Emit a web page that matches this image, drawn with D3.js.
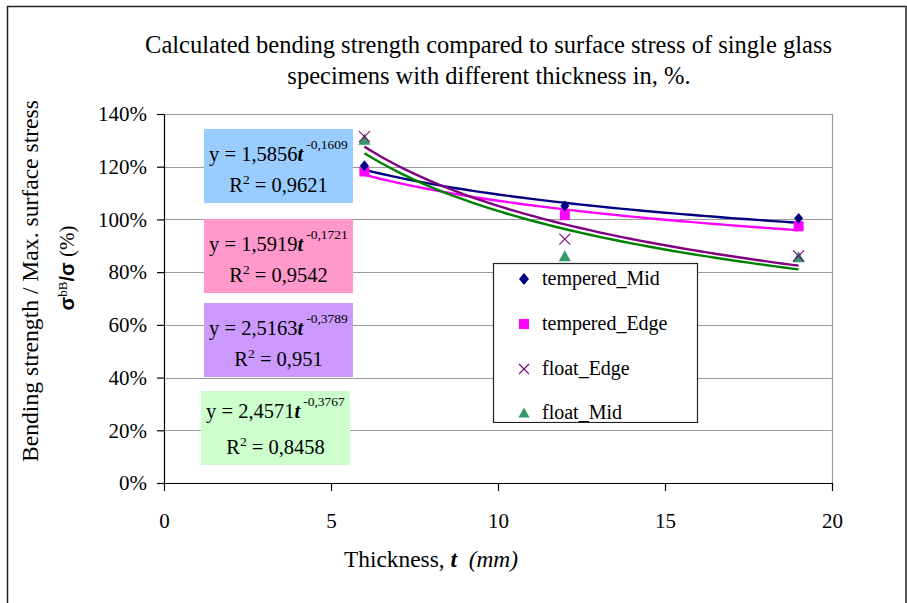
<!DOCTYPE html>
<html><head><meta charset="utf-8">
<script src="https://cdn.jsdelivr.net/npm/d3@7"></script>
<style>body{margin:0;background:#fff}svg{display:block}</style>
</head><body>
<script>
// ---- data ----
const thickness = [6, 12, 19];
const seriesNames = ["tempered_Mid", "tempered_Edge", "float_Edge", "float_Mid"];
const temperedMid = [1.204, 1.051, 1.004];
const temperedEdge = [1.182, 1.016, 0.974];
const floatEdge = [1.314, 0.925, 0.862];
const floatMid = [1.302, 0.860, 0.856];
const trendA = [1.5856, 1.5919, 2.5163, 2.4571];
const trendB = [-0.1609, -0.1721, -0.3789, -0.3767];
const eqCoef = ["1,5856", "1,5919", "2,5163", "2,4571"];
const eqExp = ["-0,1609", "-0,1721", "-0,3789", "-0,3767"];
const eqR2 = ["0,9621", "0,9542", "0,951", "0,8458"];
const xTicks = [0, 5, 10, 15, 20];
const yTicks = [0, 0.2, 0.4, 0.6, 0.8, 1.0, 1.2, 1.4];
const titleLines = ["Calculated bending strength compared to surface stress of single glass", "specimens with different thickness in, %."];
const yTitle = "Bending strength / Max. surface stress";

const SERIF = '"Liberation Serif", "Times New Roman", serif';
const SANS = '"Liberation Sans", Arial, sans-serif';
const W = 907, H = 603;
const svg = d3.select("body").append("svg").attr("width", W).attr("height", H);
svg.append("rect").attr("width", W).attr("height", H).attr("fill", "#fff");
svg.append("rect").attr("x", 7.5).attr("y", 6.5).attr("width", 898.5).attr("height", 620)
  .attr("fill", "none").attr("stroke", "#222").attr("stroke-width", 1.5);

function fit(sel, target) {
  const fs = +sel.attr("font-size");
  const w = sel.node().getComputedTextLength();
  sel.attr("font-size", (fs * target / w).toFixed(2));
  return fs * target / w;
}

const L = 164, R = 832, T = 114, B = 483;
const x = d3.scaleLinear().domain([0, 20]).range([L, R]);
const y = d3.scaleLinear().domain([0, 1.4]).range([B, T]);

// gridlines
svg.append("g").selectAll("line").data(yTicks.filter(d => d > 0)).join("line")
  .attr("x1", L).attr("x2", R).attr("y1", d => Math.round(y(d)) + 0.5).attr("y2", d => Math.round(y(d)) + 0.5)
  .attr("stroke", "#9a9a9a").attr("stroke-width", 1.2);
svg.append("line").attr("x1", R + 0.5).attr("x2", R + 0.5).attr("y1", T).attr("y2", B).attr("stroke", "#9a9a9a").attr("stroke-width", 1.2);

// axes
const yAxis = svg.append("g").attr("transform", `translate(${L},0)`)
  .call(d3.axisLeft(y).tickValues(yTicks).tickFormat(d => Math.round(d * 100) + "%").tickSize(7).tickSizeOuter(0));
yAxis.selectAll("text").attr("font-size", 21).attr("x", -17).attr("fill", "#000").style("font-family", SERIF);
const xAxis = svg.append("g").attr("transform", `translate(0,${B})`)
  .call(d3.axisBottom(x).tickValues(xTicks).tickFormat(d3.format("d")).tickSize(8).tickSizeOuter(0));
xAxis.selectAll("text").attr("font-size", 21).attr("y", 30).attr("fill", "#000").style("font-family", SERIF);
svg.selectAll(".domain, .tick line").attr("stroke", "#000").attr("stroke-width", 1.2);

// trend lines
const trendColors = ["#000080", "#FF00FF", "#800080", "#008000"];
const tSamples = d3.range(6, 19.01, 0.25);
const line = d3.line().x(d => x(d[0])).y(d => y(d[1]));
trendA.forEach((a, i) => {
  svg.append("path").datum(tSamples.map(t => [t, a * Math.pow(t, trendB[i])]))
    .attr("d", line).attr("fill", "none").attr("stroke", trendColors[i]).attr("stroke-width", 2.4);
});

// markers
const markerColors = ["#000080", "#FF00FF", "#800080", "#339966"];
function marker(g, kind, cx, cy, col, s) {
  if (kind === 0) g.append("path").attr("d", `M${cx},${cy - s * 0.6}L${cx + s * 0.5},${cy}L${cx},${cy + s * 0.6}L${cx - s * 0.5},${cy}Z`).attr("fill", col);
  else if (kind === 1) g.append("rect").attr("x", cx - s * 0.5).attr("y", cy - s * 0.5).attr("width", s).attr("height", s).attr("fill", col);
  else if (kind === 2) g.append("path").attr("d", `M${cx - s / 2},${cy - s / 2}L${cx + s / 2},${cy + s / 2}M${cx - s / 2},${cy + s / 2}L${cx + s / 2},${cy - s / 2}`).attr("stroke", col).attr("stroke-width", 1.1).attr("fill", "none");
  else g.append("path").attr("d", `M${cx},${cy - s * 0.55}L${cx + s * 0.55},${cy + s * 0.45}L${cx - s * 0.55},${cy + s * 0.45}Z`).attr("fill", col);
}
const allSeries = [temperedMid, temperedEdge, floatEdge, floatMid];
const mg = svg.append("g");
[3, 2, 1, 0].forEach(i => {
  allSeries[i].forEach((v, j) => marker(mg, i, x(thickness[j]), y(v), markerColors[i], i === 0 ? 9 : i === 1 ? 10 : 11));
});

// equation boxes
const boxFill = ["#99CCFF", "#FF99CC", "#CC99FF", "#CCFFCC"];
const boxY = [129, 219, 303, 391];
const boxX = [204, 204, 204, 201];
boxFill.forEach((c, i) => {
  const g = svg.append("g").attr("transform", `translate(${boxX[i]},${boxY[i]})`);
  g.append("rect").attr("width", 149).attr("height", 74).attr("fill", c);
  const t1 = g.append("text").attr("x", 74.5).attr("y", i === 3 ? 27 : 32).attr("text-anchor", "middle")
    .attr("font-size", 20.5).attr("fill", "#000").style("font-family", SERIF);
  t1.append("tspan").text("y = " + eqCoef[i]);
  t1.append("tspan").attr("font-weight", "bold").attr("font-style", "italic").text("t");
  t1.append("tspan").attr("font-size", 13.5).attr("dy", -12).attr("dx", 3).text(eqExp[i]);
  const t2 = g.append("text").attr("x", 74.5).attr("y", 63).attr("text-anchor", "middle")
    .attr("font-size", 20.5).attr("fill", "#000").style("font-family", SERIF);
  t2.append("tspan").text("R");
  t2.append("tspan").attr("font-size", 13.5).attr("dy", -8).text("2");
  t2.append("tspan").attr("dy", 8).text(" = " + eqR2[i]);
});

// legend
const lg = svg.append("g").attr("transform", "translate(493,263)");
lg.append("rect").attr("x", 0.5).attr("y", 0.5).attr("width", 204).attr("height", 159).attr("fill", "#fff").attr("stroke", "#222").attr("stroke-width", 1.2);
const legY = [16, 61, 106, 150];
seriesNames.forEach((n, i) => {
  marker(lg, i, 31, legY[i], markerColors[i], 10);
  lg.append("text").attr("x", 49).attr("y", legY[i] + 6).attr("font-size", 20).attr("fill", "#000").style("font-family", SERIF).text(n);
});
lg.append("rect").attr("x", 1).attr("y", 160).attr("width", 203).attr("height", 6).attr("fill", "#fff");
lg.append("line").attr("x1", 0.5).attr("x2", 204.5).attr("y1", 159.5).attr("y2", 159.5).attr("stroke", "#222").attr("stroke-width", 1.2);

// title
const tl1 = svg.append("text").attr("x", 488.5).attr("y", 53).attr("text-anchor", "middle").attr("font-size", 20)
  .attr("fill", "#000").style("font-family", SERIF).text(titleLines[0]);
const tfs = fit(tl1, 687);
svg.append("text").attr("x", 489).attr("y", 84).attr("text-anchor", "middle").attr("font-size", tfs.toFixed(2))
  .attr("fill", "#000").style("font-family", SERIF).text(titleLines[1]);

// y axis title
const yt = svg.append("g").attr("transform", "translate(38,281) rotate(-90)");
const yt1 = yt.append("text").attr("text-anchor", "middle").attr("font-size", 20).attr("fill", "#000").style("font-family", SERIF).text(yTitle);
fit(yt1, 362);
const yt2 = svg.append("g").attr("transform", "translate(74,268) rotate(-90)");
const t3 = yt2.append("text").attr("text-anchor", "middle").attr("font-size", 21).attr("fill", "#000").style("font-family", SERIF);
t3.append("tspan").style("font-family", SANS).attr("font-weight", "bold").attr("font-size", 20).text("σ");
t3.append("tspan").attr("font-size", 13).attr("dy", -7).text("bB");
t3.append("tspan").attr("dy", 7).style("font-family", SANS).attr("font-weight", "bold").attr("font-size", 20).text("/σ");
t3.append("tspan").text(" (%)");

// x axis title
const xt = svg.append("text").attr("x", 431).attr("y", 567).attr("text-anchor", "middle").attr("font-size", 20)
  .attr("fill", "#000").style("font-family", SERIF);
xt.append("tspan").text("Thickness, ");
xt.append("tspan").attr("font-weight", "bold").attr("font-style", "italic").text("t");
xt.append("tspan").attr("font-style", "italic").text("\u00a0 (mm)");
fit(xt, 174);
</script>
</body></html>
